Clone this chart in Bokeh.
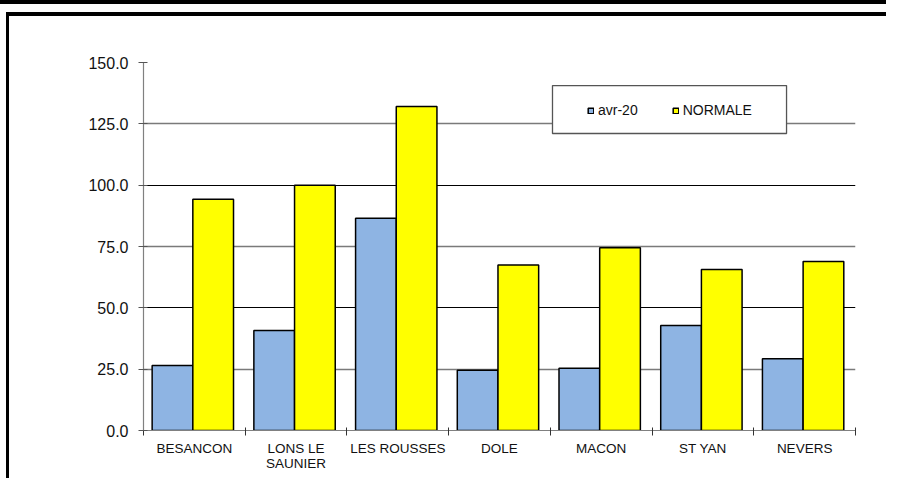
from bokeh.plotting import figure
from bokeh.models import (FactorRange, Range1d, LinearAxis, FixedTicker, PrintfTickFormatter,
                          Grid, Legend, LegendItem)
from bokeh.transform import dodge
from bokeh.embed import file_html
from bokeh.resources import INLINE

stations = ["BESANCON", "LONS LE\nSAUNIER", "LES ROUSSES", "DOLE", "MACON", "ST YAN", "NEVERS"]
avr20 = [26.5, 40.8, 86.5, 24.6, 25.4, 42.8, 29.2]
normale = [94.3, 100.0, 132.1, 67.5, 74.5, 65.6, 68.9]
y_ticks = [0, 25, 50, 75, 100, 125, 150]
series_names = ["avr-20", "NORMALE"]

FONT = "Liberation Sans"
BLUE = "#8EB4E3"
YELLOW = "#FFFF00"

p = figure(width=886, height=478, x_range=FactorRange(factors=stations), y_range=Range1d(0, 150),
           x_axis_type=None, y_axis_type=None, output_backend="svg", toolbar_location=None,
           min_border_left=143, min_border_right=31, min_border_top=62, min_border_bottom=48)
p.outline_line_color = None
p.background_fill_color = "white"
p.border_fill_color = None
# page frame lines (drawn behind the transparent canvas border)
p.styles = {
    "background-color": "white",
    "background-image": "linear-gradient(#000,#000), linear-gradient(#000,#000), linear-gradient(#000,#000)",
    "background-position": "0px 0px, 6px 12px, 6px 12px",
    "background-size": "100% 4px, 100% 4px, 3px 100%",
    "background-repeat": "no-repeat",
}

# y axis
yax = LinearAxis(ticker=FixedTicker(ticks=y_ticks), formatter=PrintfTickFormatter(format="%.1f"))
yax.axis_line_color = "#808080"
yax.axis_line_width = 1.2
yax.major_tick_line_color = "#555555"
yax.major_tick_in = 4
yax.major_tick_out = 5
yax.minor_tick_line_color = None
yax.major_label_standoff = 10
yax.major_label_text_font = FONT
yax.major_label_text_font_size = "16px"
yax.major_label_text_color = "#111111"
p.add_layout(yax, "left")

# x axis: labels at category centres, ticks at category boundaries
n = len(stations)
centres = [i + 0.5 for i in range(n)]
bounds = [float(i) for i in range(n + 1)]
xax = LinearAxis(ticker=FixedTicker(ticks=centres, minor_ticks=bounds),
                 major_label_overrides={c: s for c, s in zip(centres, stations)})
xax.axis_line_color = "#808080"
xax.axis_line_width = 1.2
xax.major_tick_line_color = None
xax.major_tick_in = 0
xax.major_tick_out = 0
xax.minor_tick_line_color = "#333333"
xax.minor_tick_in = 3
xax.minor_tick_out = 5
xax.major_label_standoff = 5
xax.major_label_text_font = FONT
xax.major_label_text_font_size = "13.5px"
xax.major_label_text_color = "#111111"
xax.major_label_text_line_height = 1.0
xax.major_label_orientation = "horizontal"
p.add_layout(xax, "below")

# grids
g1 = Grid(dimension=1, ticker=FixedTicker(ticks=[50, 100, 150]), grid_line_color="#000000", grid_line_width=1)
g2 = Grid(dimension=1, ticker=FixedTicker(ticks=[25, 75, 125]), grid_line_color="#7a7a7a", grid_line_width=1.4)
p.add_layout(g1)
p.add_layout(g2)

src = dict(station=stations, avr20=avr20, normale=normale)
r1 = p.vbar(x=dodge("station", -0.215, range=p.x_range), top="avr20", width=0.4, source=src,
            fill_color=BLUE, line_color="#000000", line_width=1.5)
r2 = p.vbar(x=dodge("station", 0.185, range=p.x_range), top="normale", width=0.4, source=src,
            fill_color=YELLOW, line_color="#000000", line_width=1.5)

# legend box
p.quad(left=[4.021], right=[6.322], bottom=[121.06], top=[140.6],
       fill_color="white", line_color="#555555", line_width=1.3)

legend = Legend(items=[LegendItem(label=series_names[0], renderers=[r1]),
                       LegendItem(label=series_names[1], renderers=[r2])],
                orientation="horizontal", location=(444, 312))
legend.background_fill_alpha = 0
legend.border_line_alpha = 0
legend.padding = 0
legend.margin = 0
legend.spacing = 34
legend.glyph_width = 7
legend.glyph_height = 7
legend.label_height = 7
legend.label_standoff = 4
legend.label_text_font = FONT
legend.label_text_font_size = "14px"
legend.label_text_color = "#111111"
p.add_layout(legend, "center")

open("out.html", "w").write(file_html(p, INLINE))
